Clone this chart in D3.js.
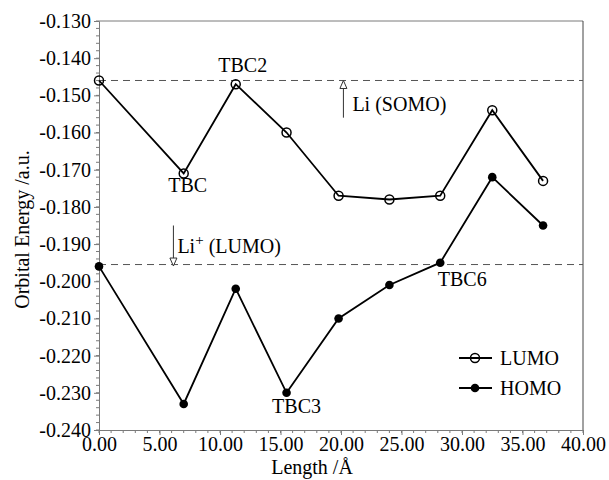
<!DOCTYPE html>
<html>
<head>
<meta charset="utf-8">
<script src="https://cdn.jsdelivr.net/npm/d3@7"></script>
<style>
  body { margin: 0; background: #fff; }
</style>
</head>
<body>
<div id="chart"></div>
<script>
// Comprimento da cadeia (Å) e energias dos orbitais (a.u.)
const lengths = [0, 7.0, 11.3, 15.5, 19.8, 24.0, 28.2, 32.5, 36.7];
const lumo = [-0.146, -0.171, -0.147, -0.160, -0.177, -0.178, -0.177, -0.154, -0.173];
const homo = [-0.196, -0.233, -0.202, -0.230, -0.210, -0.201, -0.195, -0.172, -0.185];

const xTicks = [0, 5, 10, 15, 20, 25, 30, 35, 40];
const yTicks = [-0.130, -0.140, -0.150, -0.160, -0.170, -0.180, -0.190, -0.200, -0.210, -0.220, -0.230, -0.240];

// niveis de referencia do Li
const liSomo = -0.146;
const liPlusLumo = -0.1955;

const width = 609, height = 480;
const margin = { top: 21, right: 26, bottom: 50, left: 99 };
const FONT = "Liberation Serif";
const FS = 20;

const svg = d3.select("#chart").append("svg")
  .attr("width", width).attr("height", height)
  .style("font-family", FONT);

const x = d3.scaleLinear().domain([0, 40]).range([margin.left, width - margin.right]);
const y = d3.scaleLinear().domain([-0.240, -0.130]).range([height - margin.bottom, margin.top]);

const frameColor = "#7a7a7a";
const fmtX = d => d.toFixed(2);
const fmtY = d => d.toFixed(3).replace("\u2212", "-");

// minor ticks
const xMinor = d3.range(0, 40.001, 1);
const yMinor = d3.range(0, 56).map(i => -0.240 + i * 0.002);

svg.append("g")
  .attr("stroke", frameColor)
  .selectAll("line").data(xMinor).join("line")
  .attr("x1", d => x(d)).attr("x2", d => x(d))
  .attr("y1", y(-0.240)).attr("y2", y(-0.240) + 3);
svg.append("g")
  .attr("stroke", frameColor)
  .selectAll("line").data(yMinor).join("line")
  .attr("x1", x(0) - 3).attr("x2", x(0))
  .attr("y1", d => y(d)).attr("y2", d => y(d));

// axes
const xAxis = svg.append("g")
  .attr("transform", `translate(0,${y(-0.240)})`)
  .call(d3.axisBottom(x).tickValues(xTicks).tickFormat(fmtX).tickSize(5).tickPadding(2));
const yAxis = svg.append("g")
  .attr("transform", `translate(${x(0)},0)`)
  .call(d3.axisLeft(y).tickValues(yTicks).tickFormat(fmtY).tickSize(5).tickPadding(3));

[xAxis, yAxis].forEach(g => {
  g.attr("font-family", null).attr("font-size", null);
  g.select(".domain").attr("stroke", frameColor);
  g.selectAll(".tick line").attr("stroke", frameColor);
  g.selectAll(".tick text").attr("fill", "#000")
    .style("font-family", FONT).style("font-size", FS + "px");
});

// top and right frame
svg.append("line")
  .attr("x1", x(0)).attr("x2", x(40)).attr("y1", y(-0.130)).attr("y2", y(-0.130))
  .attr("stroke", frameColor);
svg.append("line")
  .attr("x1", x(40)).attr("x2", x(40)).attr("y1", y(-0.130)).attr("y2", y(-0.240))
  .attr("stroke", "#444");

// axis titles
svg.append("text")
  .attr("x", 312).attr("y", height - 6)
  .attr("text-anchor", "middle")
  .style("font-size", FS + "px")
  .text("Length /Å");
svg.append("text")
  .attr("transform", `translate(29,${(y(-0.130) + y(-0.240)) / 2 + 4}) rotate(-90)`)
  .attr("text-anchor", "middle")
  .style("font-size", FS + "px")
  .text("Orbital Energy /a.u.");

// dashed reference lines
[liSomo, liPlusLumo].forEach(v => {
  svg.append("line")
    .attr("x1", x(0)).attr("x2", x(40))
    .attr("y1", y(v)).attr("y2", y(v))
    .attr("stroke", "#555")
    .attr("stroke-width", 1)
    .attr("stroke-dasharray", "7,5");
});

// arrows (open heads)
function arrow(xv, yFrom, yTo) {
  const x0 = x(xv), y0 = y(yFrom), y1 = y(yTo);
  const dir = y1 < y0 ? 1 : -1;
  svg.append("line")
    .attr("x1", x0).attr("x2", x0).attr("y1", y0).attr("y2", y1 + dir * 8)
    .attr("stroke", "#333").attr("stroke-width", 1);
  svg.append("path")
    .attr("d", `M${x0},${y1} L${x0 - 3.5},${y1 + dir * 8} L${x0 + 3.5},${y1 + dir * 8} Z`)
    .attr("fill", "#fff").attr("stroke", "#333").attr("stroke-width", 1);
}
arrow(20.2, -0.156, liSomo);
arrow(6.15, -0.185, liPlusLumo - 0.0004);

// series lines
const line = d3.line().x((d, i) => x(lengths[i])).y(d => y(d));
[lumo, homo].forEach(s => {
  svg.append("path")
    .datum(s)
    .attr("d", line)
    .attr("fill", "none")
    .attr("stroke", "#000")
    .attr("stroke-width", 1.8);
});

svg.append("g").selectAll("circle").data(lumo).join("circle")
  .attr("cx", (d, i) => x(lengths[i])).attr("cy", d => y(d))
  .attr("r", 4.5).attr("fill", "none").attr("stroke", "#000").attr("stroke-width", 1.5);
svg.append("g").selectAll("circle").data(homo).join("circle")
  .attr("cx", (d, i) => x(lengths[i])).attr("cy", d => y(d))
  .attr("r", 4.3).attr("fill", "#000");

// rotulos
const labels = [
  { text: "TBC", xv: 7.0, yv: -0.171, dx: 4, dy: 19 },
  { text: "TBC2", xv: 11.3, yv: -0.147, dx: 7, dy: -12 },
  { text: "TBC3", xv: 15.5, yv: -0.230, dx: 10, dy: 20 },
  { text: "TBC6", xv: 28.2, yv: -0.195, dx: 22, dy: 23 },
];
svg.append("g").selectAll("text").data(labels).join("text")
  .attr("x", d => x(d.xv) + d.dx).attr("y", d => y(d.yv) + d.dy)
  .attr("text-anchor", "middle")
  .style("font-size", FS + "px")
  .text(d => d.text);

svg.append("text")
  .attr("x", x(20.2) + 9).attr("y", y(liSomo) + 31)
  .style("font-size", FS + "px")
  .text("Li (SOMO)");
const liPlus = svg.append("text")
  .attr("x", x(6.15) + 4).attr("y", y(liPlusLumo) - 12)
  .style("font-size", FS + "px");
liPlus.append("tspan").text("Li");
liPlus.append("tspan").attr("dy", -8).style("font-size", "15px").text("+");
liPlus.append("tspan").attr("dy", 8).text(" (LUMO)");

// legenda
const legend = [
  { name: "LUMO", filled: false },
  { name: "HOMO", filled: true },
];
const lg = svg.append("g").selectAll("g").data(legend).join("g")
  .attr("transform", (d, i) => `translate(459,${358 + i * 30})`);
lg.append("line").attr("x1", 0).attr("x2", 33).attr("stroke", "#000").attr("stroke-width", 1.8);
lg.append("circle").attr("cx", 16).attr("r", d => d.filled ? 4.3 : 4.5)
  .attr("fill", d => d.filled ? "#000" : "none")
  .attr("stroke", "#000").attr("stroke-width", d => d.filled ? 0 : 1.5);
lg.append("text").attr("x", 41).attr("y", 7).style("font-size", FS + "px").text(d => d.name);
</script>
</body>
</html>
